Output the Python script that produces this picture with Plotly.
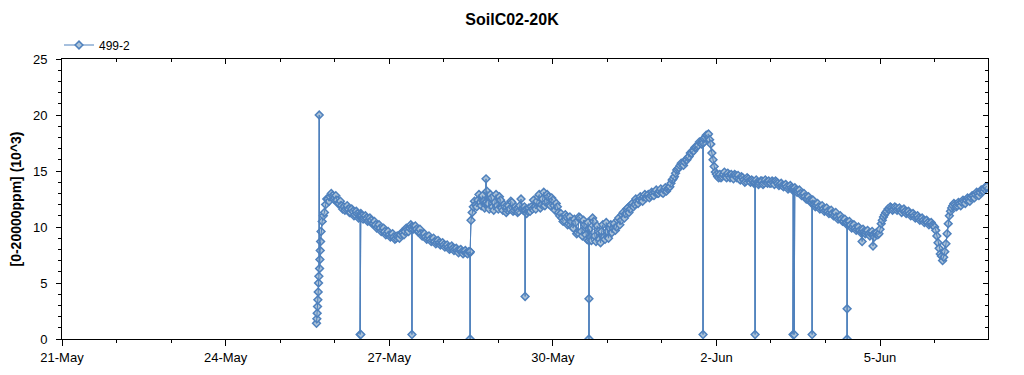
import pandas as pd
import plotly.graph_objects as go

# ---------------- data ----------------
t0 = pd.Timestamp("2016-05-21 00:00")
x_end = "2016-06-06 23:30"
series_name = "499-2"

# sensor start-up burst (hours after t0, value in 10^3 ppm)
startup_hours = [112.0, 112.15, 112.3, 112.45, 112.6, 112.75, 112.9, 113.05,
                 113.2, 113.35, 113.5, 113.65, 113.8]
startup_values = [1.4, 1.8, 2.3, 2.9, 3.5, 4.2, 5.0, 5.6, 20.0, 6.3, 7.1, 7.9, 8.7]

# readings on the hour, starting at hour 114 (25-May 18:00)
band_start_hour = 114
band_values = [
    9.6, 11.0, 12.0, 12.5, 12.7, 12.8, 12.6, 12.4, 12.1, 11.9,   # 114
    11.8, 11.6, 11.6, 11.3, 11.4, 11.1, 11.2, 10.9, 11.0, 10.8,  # 124
    10.8, 10.6, 10.6, 10.3, 10.2, 10.0, 9.9, 9.7, 9.6, 9.4,      # 134
    9.3, 9.2, 9.1, 9.0, 9.1, 9.3, 9.5, 9.6, 9.8, 9.9,            # 144
    10.0, 10.0, 9.8, 9.6, 9.4, 9.3, 9.1, 9.0, 8.9, 8.8,          # 154
    8.7, 8.6, 8.6, 8.5, 8.4, 8.3, 8.2, 8.1, 8.1, 8.0,            # 164
    7.9, 7.9, 7.8, 7.8, 7.7, 7.8, 10.6, 11.8, 12.0, 12.4,        # 174
    12.2, 12.8, 11.7, 13.2, 11.6, 12.6, 11.5, 12.9, 11.6, 12.4,  # 184
    11.5, 11.8, 11.5, 11.6, 12.2, 11.5, 11.6, 11.4, 12.5, 11.5,  # 194
    11.5, 11.4, 11.4, 11.6, 11.8, 12.3, 12.9, 12.0, 13.1, 12.2,  # 204
    12.7, 11.9, 12.4, 11.5, 11.8, 11.0, 10.8, 10.6, 10.9, 10.3,  # 214
    10.5, 9.9, 10.4, 9.5, 10.8, 9.2, 10.2, 8.9, 9.8, 8.8,        # 224
    10.5, 8.7, 9.6, 8.6, 10.2, 8.9, 9.6, 9.9, 9.5, 10.3,         # 234
    10.0, 10.8, 10.6, 11.3, 11.2, 11.7, 11.6, 12.1, 12.0, 12.3,  # 244
    12.4, 12.5, 12.7, 12.6, 12.9, 12.8, 13.0, 13.1, 13.0, 13.2,  # 254
    13.1, 13.3, 13.2, 13.5, 13.9, 14.3, 14.8, 15.2, 15.5, 15.6,  # 264
    15.8, 16.0, 16.3, 16.6, 16.8, 17.1, 17.3, 17.5, 17.7, 18.0,  # 274
    18.2, 17.8, 16.6, 15.4, 14.7, 14.4, 14.4, 14.7, 14.5, 14.8,  # 284
    14.4, 14.5, 14.7, 14.4, 14.3, 14.5, 14.2, 14.1, 14.3, 14.0,  # 294
    14.1, 13.9, 14.0, 13.9, 14.1, 13.9, 14.0, 14.1, 13.9, 14.0,  # 304
    14.1, 13.9, 13.8, 13.7, 13.7, 13.6, 13.5, 13.5, 13.4, 13.3,  # 314
    13.2, 13.0, 12.9, 12.7, 12.5, 12.4, 12.2, 12.0, 11.9, 11.8,  # 324
    11.7, 11.6, 11.5, 11.4, 11.3, 11.2, 11.1, 10.9, 10.8, 10.7,  # 334
    10.5, 10.4, 10.3, 10.2, 10.0, 9.9, 9.8, 9.7, 9.6, 9.6,       # 344
    9.5, 9.4, 9.4, 9.3, 9.4, 9.3, 9.8, 10.6, 11.1, 11.4,         # 354
    11.6, 11.7, 11.6, 11.7, 11.6, 11.5, 11.5, 11.4, 11.3, 11.2,  # 364
    11.1, 11.0, 10.9, 10.8, 10.7, 10.6, 10.5, 10.4, 10.3, 10.2,  # 374
    10.0, 9.2, 8.1, 7.4, 7.3, 8.5, 10.3, 11.4, 11.9, 12.0,       # 384
    11.9, 12.1, 12.2, 12.3, 12.4, 12.5, 12.6, 12.8, 12.9, 13.0,  # 394
    13.1, 13.3, 13.4, 13.6,                                      # 404
]

# readings on the half hour, starting at hour 114.5
half_start_hour = 114.5
half_values = [
    10.5, 11.3, 12.5, 12.3, 13.0, 12.5, 12.8, 12.1, 12.3, 11.6,  # 114.5
    11.5, 11.9, 11.3, 11.6, 11.0, 11.4, 10.8, 11.2, 10.7, 11.0,  # 124.5
    10.5, 10.8, 10.3, 10.5, 9.9, 10.2, 9.6, 9.9, 9.3, 9.6,       # 134.5
    9.1, 9.4, 8.9, 9.2, 9.0, 9.5, 9.3, 9.9, 9.6, 10.2,           # 144.5
    9.8, 10.1, 9.6, 9.8, 9.2, 9.4, 8.9, 9.2, 8.7, 9.0,           # 154.5
    8.5, 8.8, 8.4, 8.6, 8.2, 8.4, 8.0, 8.3, 7.9, 8.1,            # 164.5
    7.7, 8.0, 7.6, 7.9, 7.6, 7.7, 11.3, 12.3, 11.8, 12.9,        # 174.5
    11.9, 12.3, 12.0, 12.1, 12.9, 11.8, 12.2, 11.9, 12.7, 11.7,  # 184.5
    12.0, 11.3, 11.9, 12.3, 11.4, 11.8, 11.3, 11.9, 11.6, 11.8,  # 194.5
    11.2, 11.7, 11.8, 12.4, 11.6, 12.7, 11.7, 12.5, 11.9, 12.9,  # 204.5
    12.0, 12.6, 11.9, 12.1, 11.3, 11.2, 10.5, 11.1, 10.2, 10.9,  # 214.5
    10.0, 10.7, 9.4, 10.9, 9.6, 10.6, 9.3, 10.4, 9.1, 10.8,      # 224.5
    9.2, 10.1, 8.9, 9.6, 9.1, 10.4, 9.0, 10.2, 9.9, 9.7,         # 234.5
    10.6, 10.2, 11.1, 10.8, 11.6, 11.3, 12.0, 11.8, 12.5, 12.1,  # 244.5
    12.7, 12.3, 12.9, 12.8, 12.6, 13.1, 12.8, 13.3, 13.0, 13.4,  # 254.5
    13.0, 13.5, 13.4, 13.6, 14.2, 14.5, 15.1, 15.3, 15.7, 15.5,  # 264.5
    16.0, 16.2, 16.6, 16.8, 17.1, 17.2, 17.6, 17.4, 17.9, 18.2,  # 274.5
    18.3, 17.4, 16.0, 14.9, 14.5, 14.7, 14.5, 14.9, 14.4, 14.6,  # 284.5
    14.7, 14.3, 14.6, 14.6, 14.2, 14.4, 14.0, 14.4, 14.1, 14.2,  # 294.5
    13.9, 14.2, 13.8, 14.1, 13.8, 14.2, 13.9, 13.9, 14.1, 13.8,  # 304.5
    14.0, 13.7, 13.9, 13.6, 13.8, 13.4, 13.7, 13.3, 13.5, 13.1,  # 314.5
    13.3, 12.8, 13.0, 12.5, 12.7, 12.2, 12.4, 11.8, 12.1, 11.6,  # 324.5
    11.9, 11.4, 11.7, 11.2, 11.5, 11.0, 11.3, 10.7, 11.0, 10.5,  # 334.5
    10.7, 10.2, 10.5, 9.9, 10.2, 9.7, 10.0, 9.5, 9.8, 9.4,       # 344.5
    9.7, 9.2, 9.6, 9.1, 9.5, 9.4, 10.3, 10.9, 11.3, 11.6,        # 354.5
    11.8, 11.5, 11.8, 11.5, 11.7, 11.3, 11.6, 11.2, 11.4, 11.0,  # 364.5
    11.2, 10.8, 11.0, 10.6, 10.8, 10.4, 10.6, 10.2, 10.4, 10.1,  # 374.5
    9.7, 8.6, 7.6, 7.0, 7.8, 9.4, 11.0, 11.7, 12.1, 11.8,        # 384.5
    12.2, 11.9, 12.4, 12.1, 12.6, 12.3, 12.8, 12.6, 13.1, 12.8,  # 394.5
    13.3, 13.2, 13.6,                                            # 404.5
]

# momentary glitches: hour, reading before/after, glitch reading
event_hours = [131.2, 131.5, 154.0, 179.6, 186.6, 203.8, 231.9, 231.9, 282.1,
               305.0, 321.7, 322.2, 330.1, 345.5, 345.5, 352.1, 356.9]
event_tops = [11.0, 11.0, 10.0, 7.8, 12.2, 11.5, 8.8, 8.8, 17.5,
              14.0, 13.4, 13.4, 12.4, 10.4, 10.4, 9.6, 9.3]
event_values = [0.4, 0.4, 0.4, 0.0, 14.3, 3.8, 3.6, 0.0, 0.4,
                0.4, 0.4, 0.4, 0.4, 2.7, 0.0, 8.7, 8.3]

# ---------------- assemble series ----------------
pts = []
for h, v in zip(startup_hours, startup_values):
    pts.append((h, 0, v))
for i, v in enumerate(band_values):
    pts.append((band_start_hour + i, 0, v))
for i, v in enumerate(half_values):
    pts.append((half_start_hour + i, 0, v))
for k, (h, top, v) in enumerate(zip(event_hours, event_tops, event_values)):
    pts.append((h, 1 + 3 * k, top))
    pts.append((h, 2 + 3 * k, v))
    pts.append((h, 3 + 3 * k, top))
pts.sort(key=lambda p: (p[0], p[1]))

hours = [p[0] for p in pts]
vals = [p[2] for p in pts]
times = t0 + pd.to_timedelta(hours, unit="h")

BLUE = "#4f81bd"
FILL = "#adc3d8"
FONT = "Liberation Sans, Arial, sans-serif"

fig = go.Figure()
fig.add_trace(go.Scatter(
    x=times, y=vals, mode="lines+markers", name=series_name,
    line=dict(color=BLUE, width=1),
    marker=dict(symbol="diamond", size=6, color=FILL,
                line=dict(color=BLUE, width=1.5)),
))
# the connecting line is painted over the markers (as in the original chart)
fig.add_trace(go.Scatter(
    x=times, y=vals, mode="lines", name=series_name, showlegend=False,
    line=dict(color=BLUE, width=1), hoverinfo="skip",
))
# helper (empty) trace so the mirrored top/right axes are drawn
fig.add_trace(go.Scatter(x=[], y=[], xaxis="x2", yaxis="y2",
                         showlegend=False, hoverinfo="skip"))

day_ms = 86400000
fig.update_layout(
    width=1024, height=375,
    margin=dict(l=62, r=36, t=59, b=36, autoexpand=False),
    paper_bgcolor="white", plot_bgcolor="white",
    font=dict(family=FONT, color="black", size=13),
    title=dict(text="<b>SoilC02-20K</b>", x=0.5, xref="container",
               y=1 - 19 / 375, yref="container", yanchor="middle",
               xanchor="center", font=dict(size=16, family=FONT)),
    showlegend=True,
    legend=dict(x=59 / 1024, xref="container", y=1 - 45 / 375,
                yref="container", yanchor="middle", xanchor="left",
                orientation="h", font=dict(size=12),
                bgcolor="rgba(0,0,0,0)"),
    xaxis=dict(type="date", range=[t0, x_end], tick0=t0, dtick=3 * day_ms,
               tickformat="%-d-%b", ticks="outside", ticklen=6,
               tickcolor="black", showline=True, linecolor="black",
               linewidth=1, showgrid=False, zeroline=False, automargin=False,
               tickfont=dict(size=13),
               minor=dict(dtick=day_ms, tick0=t0, ticks="outside",
                          ticklen=3, tickcolor="black", showgrid=False)),
    yaxis=dict(range=[0, 25], dtick=5, ticks="outside", ticklen=5,
               tickcolor="black", showline=True, linecolor="black",
               linewidth=1, showgrid=False, zeroline=False, automargin=False,
               tickfont=dict(size=13), ticklabelstandoff=6,
               title=dict(text="<b>[0-20000ppm] (10^3)</b>",
                          font=dict(size=14), standoff=8),
               minor=dict(dtick=1, ticks="outside", ticklen=3,
                          tickcolor="black", showgrid=False)),
    xaxis2=dict(type="date", overlaying="x", side="top", matches="x",
                anchor="y", tick0=t0, dtick=3 * day_ms, ticks="inside",
                ticklen=5, tickcolor="black", showticklabels=False,
                showline=True, linecolor="black", showgrid=False,
                zeroline=False, automargin=False,
                minor=dict(dtick=day_ms, tick0=t0, ticks="inside",
                           ticklen=3, tickcolor="black", showgrid=False)),
    yaxis2=dict(overlaying="y", side="right", matches="y", anchor="x",
                range=[0, 25], dtick=5, ticks="inside", ticklen=5,
                tickcolor="black", showticklabels=False, showline=True,
                linecolor="black", showgrid=False, zeroline=False,
                automargin=False,
                minor=dict(dtick=1, ticks="inside", ticklen=3,
                           tickcolor="black", showgrid=False)),
)

fig.write_html(
    "out.html",
    config={"displayModeBar": False},
    post_script="document.body.style.margin='0';"
                "document.body.style.overflow='hidden';",
)
